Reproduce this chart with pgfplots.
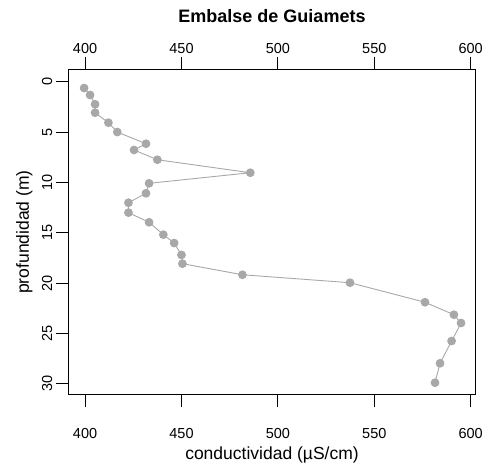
\documentclass[border=0pt]{standalone}
\usepackage{pgfplots}
\pgfplotsset{compat=1.18}
\usepackage{fontspec}
\setmainfont{Liberation Sans}
\definecolor{ptgray}{RGB}{168,168,168}

\pgfplotstableread{
cond depth
399.5 0.63
402.6 1.32
405.2 2.24
405.2 3.08
412.1 4.07
416.7 5.00
431.6 6.16
425.4 6.78
437.5 7.75
485.7 9.04
433.2 10.09
431.6 11.08
422.5 12.02
422.5 13.00
433.2 13.96
440.6 15.19
446.2 16.02
450.0 17.20
450.5 18.07
481.6 19.17
537.4 19.96
576.3 21.90
591.3 23.14
595.0 23.96
590.1 25.75
584.1 27.96
581.5 29.89
}\guiamets

\begin{document}
\begin{tikzpicture}
\pgfplotsset{
  common/.style={
    scale only axis,
    width=407.4bp, height=325.4bp,
    xmin=391.3, xmax=602.6,
    ymin=-1.23, ymax=31.08,
    y dir=reverse,
    xtick={400,450,500,550,600},
    /pgf/number format/assume math mode=true,
    tick label style={font=\fontsize{14.5bp}{16bp}\selectfont},
  }
}
\begin{axis}[
  common,
  ytick={0,5,...,30},
  tick align=outside,
  major tick length=12.5bp,
  xtick pos=both,
  ytick pos=left,
  xticklabel pos=bottom,
  axis line style={line width=0.8bp},
  every tick/.style={black,line width=0.8bp},
  yticklabel style={rotate=90,anchor=south},
  xticklabel style={yshift=-18bp},
  xlabel={conductividad (µS/cm)},
  ylabel={profundidad (m)},
  title={Embalse de Guiamets},
  label style={font=\fontsize{17.5bp}{19bp}\selectfont},
  xlabel style={at={(axis description cs:0.5,-0.1844)},anchor=center},
  ylabel style={at={(axis description cs:-0.108,0.5)},anchor=center},
  title style={at={(axis description cs:0.5,1.144)},anchor=center,
    font=\fontsize{18bp}{20bp}\selectfont\bfseries},
]
\addplot[ptgray, line width=0.9bp, mark=*, mark size=3.9bp,
  mark options={fill=ptgray,draw=ptgray}] table[x=cond,y=depth] {\guiamets};
\end{axis}
\begin{axis}[
  common,
  ytick=\empty,
  axis line style={draw=none},
  xticklabel pos=top,
  tick align=outside,
  major tick length=12.5bp,
  every tick/.style={draw=none},
]
\end{axis}
\pgfresetboundingbox
\path (-68.3bp,-74.3bp) rectangle (423.7bp,394.7bp);
\end{tikzpicture}
\end{document}
